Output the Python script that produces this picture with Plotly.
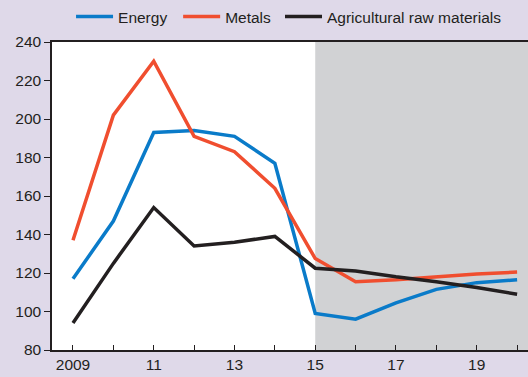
import plotly.graph_objects as go

years = list(range(2009, 2021))
energy = [117, 147, 193, 194, 191, 177, 99, 96, 104.5, 111.5, 115, 116.5]
metals = [137, 202, 230, 191, 183, 164, 127.5, 115.5, 116.5, 118, 119.5, 120.5]
agri = [94, 125, 154, 134, 136, 139, 122.5, 121, 118, 115.5, 112.5, 109]

tick_labels = ["2009", "", "11", "", "13", "", "15", "", "17", "", "19", ""]
forecast_start = 2015

BG = "#DFD9E9"
INK = "#231F20"
FONT = "Liberation Sans, Arial, sans-serif"

fig = go.Figure()
series = [
    ("Energy", energy, "#0A7BC9", "legend", 0.04),
    ("Metals", metals, "#F04E2F", "legend2", 0.265),
    ("Agricultural raw materials", agri, "#231F20", "legend3", 0.479),
]
legend_layout = {}
for name, vals, color, leg, lx in series:
    fig.add_trace(go.Scatter(
        x=years, y=vals, name=name, mode="lines",
        line=dict(color=color, width=3.5), legend=leg,
    ))
    legend_layout[leg] = dict(
        orientation="h", x=lx, xanchor="left", y=1.135, yanchor="top",
        bgcolor="rgba(0,0,0,0)", font=dict(family=FONT, size=15.5, color=INK),
        itemwidth=37,
    )

fig.add_shape(
    type="rect", xref="x", yref="paper",
    x0=forecast_start, x1=2020.3, y0=0, y1=1,
    fillcolor="#D1D2D4", line_width=0, layer="below",
)

fig.update_layout(
    width=528, height=377,
    margin=dict(l=52, r=0, t=41, b=27),
    paper_bgcolor=BG, plot_bgcolor="white",
    font=dict(family=FONT, size=15, color=INK),
    showlegend=True,
    **legend_layout,
)

fig.update_xaxes(
    range=[2008.48, 2020.27],
    tickvals=years, ticktext=tick_labels,
    ticks="inside", ticklen=5, tickwidth=1, tickcolor=INK,
    showline=True, linecolor=INK, linewidth=1.5, mirror=True,
    showgrid=False, zeroline=False,
    tickfont=dict(family=FONT, size=15.5, color=INK),
)
fig.update_yaxes(
    range=[80, 240], dtick=20,
    ticks="outside", ticklen=6, tickwidth=1, tickcolor=INK,
    showline=True, linecolor=INK, linewidth=1.5,
    showgrid=False, zeroline=False,
    tickfont=dict(family=FONT, size=15.5, color=INK),
)

fig.write_html("out.html")
